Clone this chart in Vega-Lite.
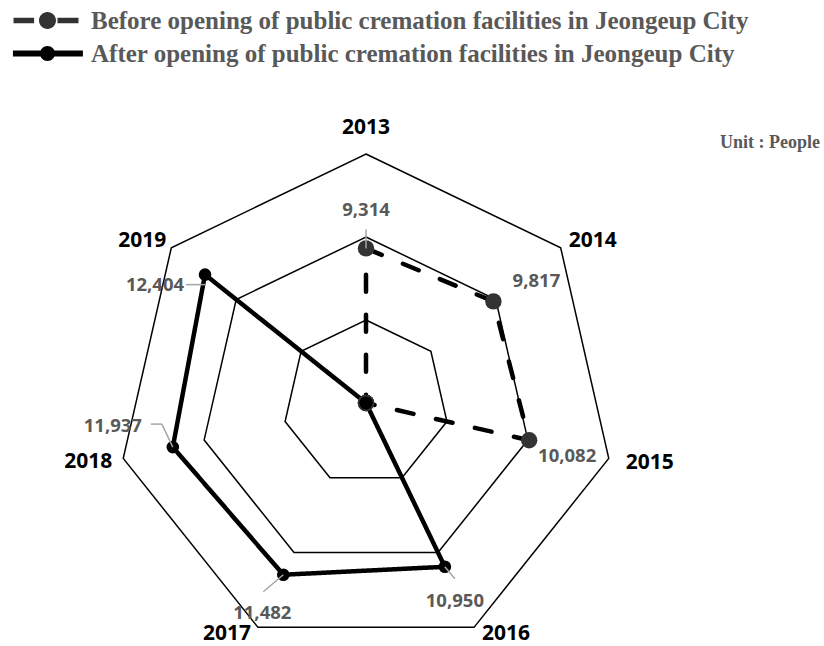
{
  "$schema": "https://vega.github.io/schema/vega-lite/v6.json",
  "width": 824,
  "height": 646,
  "autosize": {"type": "none"},
  "padding": 0,
  "background": "white",
  "config": {"view": {"stroke": null}},
  "title": {"text": "Unit : People", "anchor": "end", "frame": "group", "offset": -152, "dx": -4, "font": "Liberation Serif", "fontSize": 18, "fontWeight": "bold", "color": "#595959"},
  "datasets": {
    "series": [
      {"series": "Before opening of public cremation facilities in Jeongeup City", "year": "2013", "i": 0, "value": 9314},
      {"series": "Before opening of public cremation facilities in Jeongeup City", "year": "2014", "i": 1, "value": 9817},
      {"series": "Before opening of public cremation facilities in Jeongeup City", "year": "2015", "i": 2, "value": 10082},
      {"series": "Before opening of public cremation facilities in Jeongeup City", "year": "2016", "i": 3, "value": 0},
      {"series": "Before opening of public cremation facilities in Jeongeup City", "year": "2017", "i": 4, "value": 0},
      {"series": "Before opening of public cremation facilities in Jeongeup City", "year": "2018", "i": 5, "value": 0},
      {"series": "Before opening of public cremation facilities in Jeongeup City", "year": "2019", "i": 6, "value": 0},
      {"series": "After opening of public cremation facilities in Jeongeup City", "year": "2013", "i": 0, "value": 0},
      {"series": "After opening of public cremation facilities in Jeongeup City", "year": "2014", "i": 1, "value": 0},
      {"series": "After opening of public cremation facilities in Jeongeup City", "year": "2015", "i": 2, "value": 0},
      {"series": "After opening of public cremation facilities in Jeongeup City", "year": "2016", "i": 3, "value": 10950},
      {"series": "After opening of public cremation facilities in Jeongeup City", "year": "2017", "i": 4, "value": 11482},
      {"series": "After opening of public cremation facilities in Jeongeup City", "year": "2018", "i": 5, "value": 11937},
      {"series": "After opening of public cremation facilities in Jeongeup City", "year": "2019", "i": 6, "value": 12404}
    ],
    "rings": [
      {"ring": 5000, "i": 0}, {"ring": 5000, "i": 1}, {"ring": 5000, "i": 2}, {"ring": 5000, "i": 3}, {"ring": 5000, "i": 4}, {"ring": 5000, "i": 5}, {"ring": 5000, "i": 6},
      {"ring": 10000, "i": 0}, {"ring": 10000, "i": 1}, {"ring": 10000, "i": 2}, {"ring": 10000, "i": 3}, {"ring": 10000, "i": 4}, {"ring": 10000, "i": 5}, {"ring": 10000, "i": 6},
      {"ring": 15000, "i": 0}, {"ring": 15000, "i": 1}, {"ring": 15000, "i": 2}, {"ring": 15000, "i": 3}, {"ring": 15000, "i": 4}, {"ring": 15000, "i": 5}, {"ring": 15000, "i": 6}
    ],
    "years": [
      {"year": "2013", "i": 0}, {"year": "2014", "i": 1}, {"year": "2015", "i": 2}, {"year": "2016", "i": 3},
      {"year": "2017", "i": 4}, {"year": "2018", "i": 5}, {"year": "2019", "i": 6}
    ]
  },
  "encoding": {
    "x": {"field": "px", "type": "quantitative", "scale": {"domain": [-22048, 27590], "nice": false, "zero": false}, "axis": null},
    "y": {"field": "py", "type": "quantitative", "scale": {"domain": [-14638, 24277], "nice": false, "zero": false}, "axis": null}
  },
  "layer": [
    {
      "data": {"name": "rings"},
      "transform": [
        {"calculate": "datum.i*2*PI/7", "as": "a"},
        {"calculate": "datum.ring*sin(datum.a)", "as": "px"},
        {"calculate": "datum.ring*cos(datum.a)", "as": "py"}
      ],
      "mark": {"type": "line", "interpolate": "linear-closed", "color": "#000000", "strokeWidth": 1.5},
      "encoding": {"detail": {"field": "ring", "type": "nominal"}, "order": {"field": "i", "type": "quantitative"}}
    },
    {
      "data": {"name": "series"},
      "transform": [
        {"calculate": "datum.i*2*PI/7", "as": "a"},
        {"calculate": "datum.value*sin(datum.a)", "as": "px"},
        {"calculate": "datum.value*cos(datum.a)", "as": "py"}
      ],
      "mark": {"type": "line", "interpolate": "linear-closed", "color": "#000000", "strokeWidth": 4.5, "strokeCap": "round", "strokeJoin": "round"},
      "encoding": {
        "detail": {"field": "series", "type": "nominal"},
        "order": {"field": "i", "type": "quantitative"},
        "strokeDash": {"field": "series", "type": "nominal", "legend": null,
          "scale": {"domain": ["After opening of public cremation facilities in Jeongeup City", "Before opening of public cremation facilities in Jeongeup City"], "range": [[1, 0], [17, 23]]}}
      }
    },
    {
      "data": {"name": "series"},
      "transform": [
        {"filter": "datum.value == 0"},
        {"calculate": "0", "as": "px"},
        {"calculate": "0", "as": "py"}
      ],
      "mark": {"type": "point", "filled": true, "opacity": 1, "strokeWidth": 0, "size": 0},
      "encoding": {
        "shape": {"field": "series", "type": "nominal",
          "scale": {"domain": ["Before opening of public cremation facilities in Jeongeup City", "After opening of public cremation facilities in Jeongeup City"],
            "range": ["M-2.833,-0.23H-1.117V0.23H-2.833ZM0.833,-0.23H2.583V0.23H0.833ZM0.708,0A0.708,0.708,0,1,1,-0.708,0A0.708,0.708,0,1,1,0.708,0Z",
                      "M-2.88,-0.25H2.95V0.25H-2.88ZM0.625,0A0.625,0.625,0,1,1,-0.625,0A0.625,0.625,0,1,1,0.625,0Z"]},
          "legend": {"orient": "none", "legendX": 35, "legendY": 8, "title": null, "symbolSize": 576, "symbolStrokeWidth": 0,
            "labelFont": "Liberation Serif", "labelFontWeight": "bold", "labelFontSize": 25, "labelColor": "#595959",
            "labelOffset": 31, "labelLimit": 900, "rowPadding": 7, "padding": 0}},
        "fill": {"field": "series", "type": "nominal",
          "scale": {"domain": ["Before opening of public cremation facilities in Jeongeup City", "After opening of public cremation facilities in Jeongeup City"], "range": ["#333333", "#000000"]},
          "legend": {"orient": "none", "legendX": 35, "legendY": 8, "title": null, "symbolSize": 576, "symbolStrokeWidth": 0,
            "labelFont": "Liberation Serif", "labelFontWeight": "bold", "labelFontSize": 25, "labelColor": "#595959",
            "labelOffset": 31, "labelLimit": 900, "rowPadding": 7, "padding": 0}}
      }
    },
    {
      "data": {"name": "series"},
      "transform": [
        {"filter": "datum.series == 'Before opening of public cremation facilities in Jeongeup City'"},
        {"calculate": "datum.i*2*PI/7", "as": "a"},
        {"calculate": "datum.value*sin(datum.a)", "as": "px"},
        {"calculate": "datum.value*cos(datum.a)", "as": "py"}
      ],
      "mark": {"type": "point", "filled": true, "opacity": 1, "fill": "#333333", "strokeWidth": 0, "size": 270}
    },
    {
      "data": {"name": "series"},
      "transform": [
        {"filter": "datum.series == 'After opening of public cremation facilities in Jeongeup City'"},
        {"calculate": "datum.i*2*PI/7", "as": "a"},
        {"calculate": "datum.value*sin(datum.a)", "as": "px"},
        {"calculate": "datum.value*cos(datum.a)", "as": "py"}
      ],
      "mark": {"type": "point", "filled": true, "opacity": 1, "fill": "#000000", "strokeWidth": 0, "size": 160}
    },
    {
      "data": {"name": "series"},
      "transform": [
        {"filter": "datum.value > 0 && datum.i != 1 && datum.i != 2"},
        {"calculate": "datum.i*2*PI/7", "as": "a"},
        {"calculate": "datum.value*sin(datum.a)", "as": "px"},
        {"calculate": "datum.value*cos(datum.a) - [0,0,0,0,0,0,10][datum.i]*60.24", "as": "py"},
        {"calculate": "datum.value*sin(datum.a) + [0,0,0,10,-20,-11,-19][datum.i]*60.24", "as": "ex"},
        {"calculate": "datum.value*cos(datum.a) - [-19,0,0,12,17,-23,10][datum.i]*60.24", "as": "ey"}
      ],
      "mark": {"type": "rule", "color": "#a6a6a6", "strokeWidth": 1.5},
      "encoding": {"x2": {"field": "ex"}, "y2": {"field": "ey"}}
    },
    {
      "data": {"name": "series"},
      "transform": [
        {"filter": "datum.value > 0 && datum.i == 5"},
        {"calculate": "datum.i*2*PI/7", "as": "a"},
        {"calculate": "datum.value*sin(datum.a) - 11*60.24", "as": "px"},
        {"calculate": "datum.value*cos(datum.a) + 23*60.24", "as": "py"},
        {"calculate": "datum.value*sin(datum.a) - 22*60.24", "as": "ex"},
        {"calculate": "datum.value*cos(datum.a) + 23*60.24", "as": "ey"}
      ],
      "mark": {"type": "rule", "color": "#a6a6a6", "strokeWidth": 1.5},
      "encoding": {"x2": {"field": "ex"}, "y2": {"field": "ey"}}
    },
    {
      "data": {"name": "series"},
      "transform": [
        {"filter": "datum.value > 0"},
        {"calculate": "datum.i*2*PI/7", "as": "a"},
        {"calculate": "datum.value*sin(datum.a) + [0,43,38,10,-21,-60,-50][datum.i]*60.24", "as": "px"},
        {"calculate": "datum.value*cos(datum.a) - [-38.5,-20.5,16,34,38.5,-21.5,10.5][datum.i]*60.24", "as": "py"}
      ],
      "mark": {"type": "text", "font": "Noto Sans", "fontWeight": "bold", "fontSize": 18.5, "color": "#595959", "align": "center", "baseline": "middle"},
      "encoding": {"text": {"field": "value", "type": "quantitative", "format": ","}}
    },
    {
      "data": {"name": "years"},
      "transform": [
        {"calculate": "datum.i*2*PI/7", "as": "a"},
        {"calculate": "15000*sin(datum.a) + [0,32,41,32,-31,-35,-29][datum.i]*60.24", "as": "px"},
        {"calculate": "15000*cos(datum.a) - [-26,-7,5,7,7,4,-7][datum.i]*60.24", "as": "py"}
      ],
      "mark": {"type": "text", "font": "Noto Sans", "fontWeight": "bold", "fontSize": 21, "color": "#000000", "align": "center", "baseline": "middle"},
      "encoding": {"text": {"field": "year", "type": "nominal"}}
    }
  ]
}
